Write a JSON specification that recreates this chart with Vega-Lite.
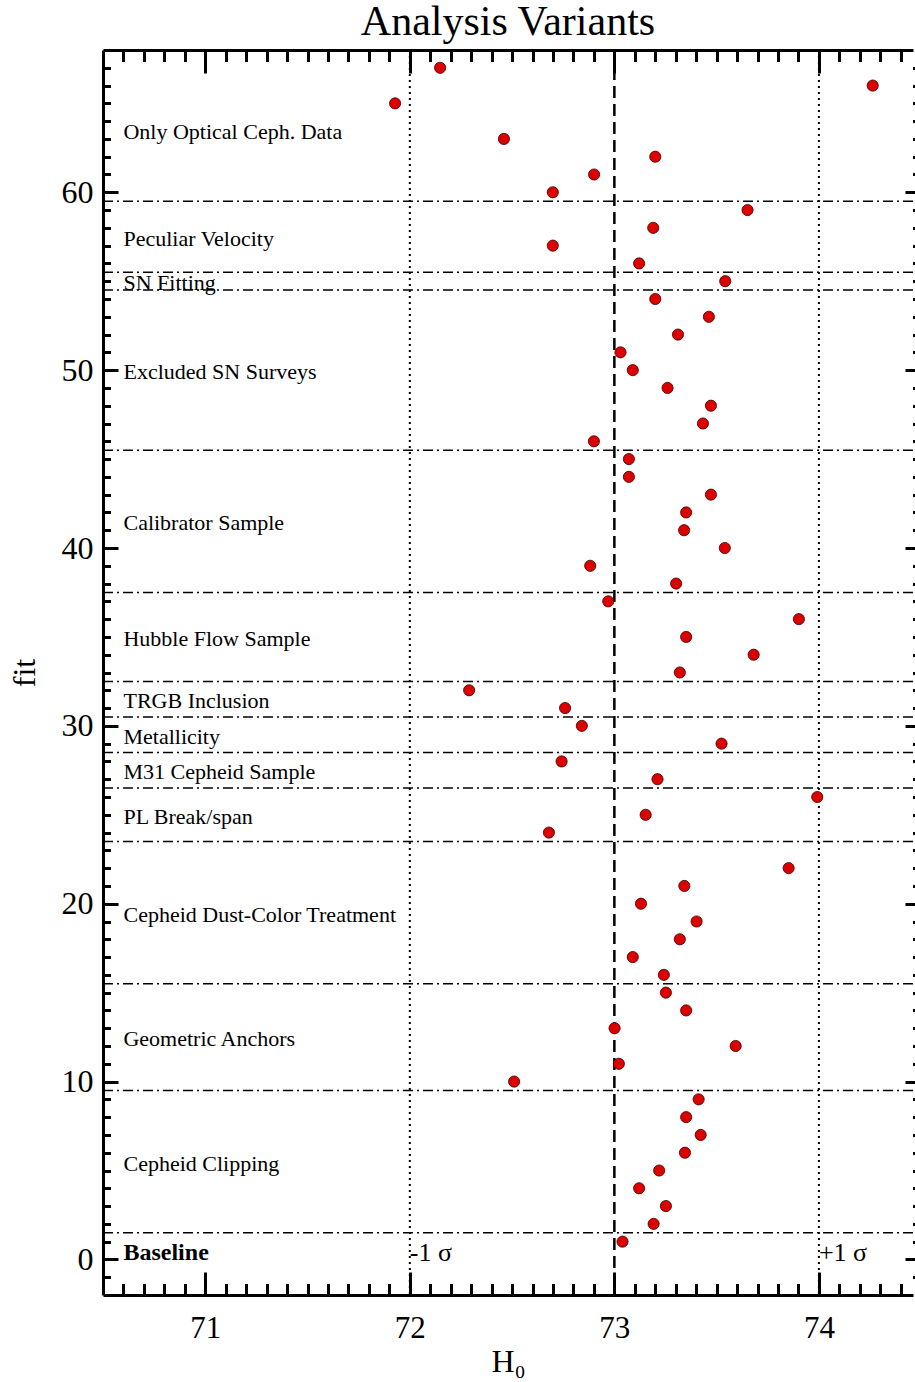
{
  "$schema": "https://vega.github.io/schema/vega-lite/v6.json",
  "autosize": "none",
  "width": 810,
  "height": 1245,
  "padding": {"left": 103, "top": 50, "right": 2, "bottom": 87},
  "background": "white",
  "title": {"text": "Analysis Variants", "fontSize": 42, "font": "Liberation Serif", "fontWeight": "normal", "color": "black", "anchor": "middle", "offset": 5},
  "config": {
    "view": {"stroke": null},
    "axis": {"grid": false, "domainColor": "black", "tickColor": "black", "labelColor": "black", "titleColor": "black", "labelFont": "Liberation Serif", "titleFont": "Liberation Serif"}
  },
  "datasets": {
    "points": [
      {"fit": 1, "H0": 73.04}, {"fit": 2, "H0": 73.192}, {"fit": 3, "H0": 73.252}, {"fit": 4, "H0": 73.121},
      {"fit": 5, "H0": 73.219}, {"fit": 6, "H0": 73.345}, {"fit": 7, "H0": 73.422}, {"fit": 8, "H0": 73.351},
      {"fit": 9, "H0": 73.412}, {"fit": 10, "H0": 72.51}, {"fit": 11, "H0": 73.022}, {"fit": 12, "H0": 73.593},
      {"fit": 13, "H0": 73.001}, {"fit": 14, "H0": 73.351}, {"fit": 15, "H0": 73.252}, {"fit": 16, "H0": 73.242},
      {"fit": 17, "H0": 73.09}, {"fit": 18, "H0": 73.32}, {"fit": 19, "H0": 73.402}, {"fit": 20, "H0": 73.13},
      {"fit": 21, "H0": 73.342}, {"fit": 22, "H0": 73.852}, {"fit": 24, "H0": 72.68}, {"fit": 25, "H0": 73.153},
      {"fit": 26, "H0": 73.992}, {"fit": 27, "H0": 73.211}, {"fit": 28, "H0": 72.742}, {"fit": 29, "H0": 73.524},
      {"fit": 30, "H0": 72.841}, {"fit": 31, "H0": 72.759}, {"fit": 32, "H0": 72.29}, {"fit": 33, "H0": 73.32},
      {"fit": 34, "H0": 73.681}, {"fit": 35, "H0": 73.351}, {"fit": 36, "H0": 73.902}, {"fit": 37, "H0": 72.97},
      {"fit": 38, "H0": 73.302}, {"fit": 39, "H0": 72.882}, {"fit": 40, "H0": 73.54}, {"fit": 41, "H0": 73.341},
      {"fit": 42, "H0": 73.351}, {"fit": 43, "H0": 73.472}, {"fit": 44, "H0": 73.071}, {"fit": 45, "H0": 73.071},
      {"fit": 46, "H0": 72.9}, {"fit": 47, "H0": 73.433}, {"fit": 48, "H0": 73.472}, {"fit": 49, "H0": 73.26},
      {"fit": 50, "H0": 73.09}, {"fit": 51, "H0": 73.03}, {"fit": 52, "H0": 73.311}, {"fit": 53, "H0": 73.462},
      {"fit": 54, "H0": 73.2}, {"fit": 55, "H0": 73.542}, {"fit": 56, "H0": 73.121}, {"fit": 57, "H0": 72.699},
      {"fit": 58, "H0": 73.19}, {"fit": 59, "H0": 73.651}, {"fit": 60, "H0": 72.699}, {"fit": 61, "H0": 72.901},
      {"fit": 62, "H0": 73.2}, {"fit": 63, "H0": 72.46}, {"fit": 65, "H0": 71.928}, {"fit": 66, "H0": 74.263},
      {"fit": 67, "H0": 72.148}
    ],
    "groups": [
      {"group": "Baseline", "mid": 0.5},
      {"group": "Cepheid Clipping", "mid": 5.5},
      {"group": "Geometric Anchors", "mid": 12.5},
      {"group": "Cepheid Dust-Color Treatment", "mid": 19.5},
      {"group": "PL Break/span", "mid": 25},
      {"group": "M31 Cepheid Sample", "mid": 27.5},
      {"group": "Metallicity", "mid": 29.5},
      {"group": "TRGB Inclusion", "mid": 31.5},
      {"group": "Hubble Flow Sample", "mid": 35},
      {"group": "Calibrator Sample", "mid": 41.5},
      {"group": "Excluded SN Surveys", "mid": 50},
      {"group": "SN Fitting", "mid": 55},
      {"group": "Peculiar Velocity", "mid": 57.5},
      {"group": "Only Optical Ceph. Data", "mid": 63.5}
    ],
    "boundaries": [
      {"y": 1.5}, {"y": 9.5}, {"y": 15.5}, {"y": 23.5}, {"y": 26.5}, {"y": 28.5}, {"y": 30.5},
      {"y": 32.5}, {"y": 37.5}, {"y": 45.5}, {"y": 54.5}, {"y": 55.5}, {"y": 59.5}
    ],
    "sigma": [{"H0": 72, "label": "-1 σ"}, {"H0": 74, "label": "+1 σ"}],
    "center": [{"H0": 73}]
  },
  "resolve": {"axis": {"x": "independent", "y": "independent"}},
  "layer": [
    {
      "data": {"name": "boundaries"},
      "mark": {"type": "rule", "color": "black", "strokeWidth": 1.5, "strokeDash": [10, 4, 2, 4]},
      "encoding": {
        "y": {"field": "y", "type": "quantitative", "scale": {"domain": [-2, 68], "nice": false, "zero": false},
          "axis": {"orient": "right", "offset": 7, "labels": false, "title": null, "domain": false, "tickWidth": 3,
            "values": [-1,0,1,2,3,4,5,6,7,8,9,10,11,12,13,14,15,16,17,18,19,20,21,22,23,24,25,26,27,28,29,30,31,32,33,34,35,36,37,38,39,40,41,42,43,44,45,46,47,48,49,50,51,52,53,54,55,56,57,58,59,60,61,62,63,64,65,66,67],
            "tickSize": {"condition": {"test": "datum.value % 10 === 0", "value": -15}, "value": -7.5}}}
      }
    },
    {
      "data": {"name": "sigma"},
      "mark": {"type": "rule", "color": "black", "strokeWidth": 2, "strokeDash": [2, 4]},
      "encoding": {
        "x": {"field": "H0", "type": "quantitative", "scale": {"domain": [70.5, 74.46], "nice": false, "zero": false},
          "axis": {"orient": "top", "labels": false, "title": null, "domain": true, "domainWidth": 3, "tickWidth": 3,
            "values": [70.6,70.7,70.8,70.9,71,71.1,71.2,71.3,71.4,71.5,71.6,71.7,71.8,71.9,72,72.1,72.2,72.3,72.4,72.5,72.6,72.7,72.8,72.9,73,73.1,73.2,73.3,73.4,73.5,73.6,73.7,73.8,73.9,74,74.1,74.2,74.3,74.4],
            "tickSize": {"condition": {"test": "abs(datum.value - round(datum.value)) < 0.001", "value": -23}, "value": -11.5}}}
      }
    },
    {
      "data": {"name": "center"},
      "mark": {"type": "rule", "color": "black", "strokeWidth": 2.5, "strokeDash": [12, 6]},
      "encoding": {
        "x": {"field": "H0", "type": "quantitative", "scale": {"domain": [70.5, 74.46], "nice": false, "zero": false},
          "axis": {"orient": "bottom", "labels": false, "title": null, "domain": false, "tickWidth": 3,
            "values": [70.6,70.7,70.8,70.9,71,71.1,71.2,71.3,71.4,71.5,71.6,71.7,71.8,71.9,72,72.1,72.2,72.3,72.4,72.5,72.6,72.7,72.8,72.9,73,73.1,73.2,73.3,73.4,73.5,73.6,73.7,73.8,73.9,74,74.1,74.2,74.3,74.4],
            "tickSize": {"condition": {"test": "abs(datum.value - round(datum.value)) < 0.001", "value": -23}, "value": -11.5}}}
      }
    },
    {
      "data": {"name": "groups"},
      "transform": [{"filter": "datum.group !== 'Baseline'"}],
      "mark": {"type": "text", "align": "left", "baseline": "middle", "font": "Liberation Serif", "fontSize": 22, "color": "black", "dy": 2},
      "encoding": {
        "x": {"datum": 70.6, "type": "quantitative", "scale": {"domain": [70.5, 74.46], "nice": false, "zero": false}, "axis": null},
        "y": {"field": "mid", "type": "quantitative", "scale": {"domain": [-2, 68], "nice": false, "zero": false},
          "axis": {"orient": "left", "labels": false, "title": null, "domain": false, "tickWidth": 3,
            "values": [-1,0,1,2,3,4,5,6,7,8,9,10,11,12,13,14,15,16,17,18,19,20,21,22,23,24,25,26,27,28,29,30,31,32,33,34,35,36,37,38,39,40,41,42,43,44,45,46,47,48,49,50,51,52,53,54,55,56,57,58,59,60,61,62,63,64,65,66,67],
            "tickSize": {"condition": {"test": "datum.value % 10 === 0", "value": -15}, "value": -7.5}}},
        "text": {"field": "group"}
      }
    },
    {
      "data": {"name": "groups"},
      "transform": [{"filter": "datum.group === 'Baseline'"}],
      "mark": {"type": "text", "align": "left", "baseline": "middle", "font": "Liberation Serif", "fontSize": 24, "fontWeight": "bold", "color": "black", "dy": 2},
      "encoding": {
        "x": {"datum": 70.6, "type": "quantitative", "scale": {"domain": [70.5, 74.46], "nice": false, "zero": false}, "axis": null},
        "y": {"field": "mid", "type": "quantitative", "scale": {"domain": [-2, 68], "nice": false, "zero": false}, "axis": null},
        "text": {"field": "group"}
      }
    },
    {
      "data": {"name": "sigma"},
      "mark": {"type": "text", "align": "left", "baseline": "middle", "font": "Liberation Serif", "fontSize": 26, "color": "black", "dy": 2},
      "encoding": {
        "x": {"field": "H0", "type": "quantitative", "scale": {"domain": [70.5, 74.46], "nice": false, "zero": false}, "axis": null},
        "y": {"datum": 0.5, "type": "quantitative", "scale": {"domain": [-2, 68], "nice": false, "zero": false}, "axis": null},
        "text": {"field": "label"}
      }
    },
    {
      "data": {"name": "points"},
      "mark": {"type": "circle", "size": 125, "fill": "#dd0000", "stroke": "#3a0000", "strokeWidth": 0.8, "opacity": 1},
      "encoding": {
        "x": {"field": "H0", "type": "quantitative", "scale": {"domain": [70.5, 74.46], "nice": false, "zero": false},
          "axis": {"orient": "bottom", "ticks": false, "domain": true, "domainWidth": 3, "values": [71, 72, 73, 74],
            "labelFontSize": 31, "labelPadding": 18, "title": "H₀", "titleFontSize": 32, "titleFontWeight": "normal", "titlePadding": 3}},
        "y": {"field": "fit", "type": "quantitative", "scale": {"domain": [-2, 68], "nice": false, "zero": false},
          "axis": {"orient": "left", "ticks": false, "domain": true, "domainWidth": 3, "values": [0, 10, 20, 30, 40, 50, 60],
            "labelFontSize": 32, "labelPadding": 10, "title": "fit", "titleFontSize": 32, "titleFontWeight": "normal", "titlePadding": 20}}
      }
    }
  ]
}
